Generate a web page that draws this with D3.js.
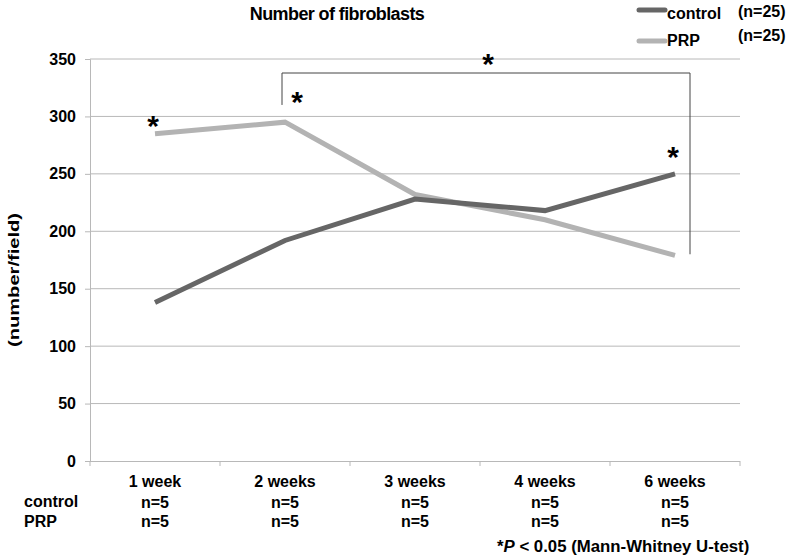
<!DOCTYPE html>
<html>
<head>
<meta charset="utf-8">
<script src="https://cdn.jsdelivr.net/npm/d3@7"></script>
<style>
  body { margin: 0; background: #fff; }
  text { font-family: "Liberation Sans", Arial, sans-serif; font-weight: bold; fill: #000; }
</style>
</head>
<body>
<div id="chart"></div>
<script>
const weeks = ["1 week", "2 weeks", "3 weeks", "4 weeks", "6 weeks"];
const controlValues = [138, 192, 228, 218, 250];
const prpValues = [285, 295, 232, 210, 179];
const controlN = ["n=5", "n=5", "n=5", "n=5", "n=5"];
const prpN = ["n=5", "n=5", "n=5", "n=5", "n=5"];
const yTicks = [0, 50, 100, 150, 200, 250, 300, 350];

const W = 790, H = 557;
const plotLeft = 90, plotRight = 740, plotTop = 59, plotBottom = 461;
const fs = "16px";

const svg = d3.select("#chart").append("svg")
  .attr("width", W).attr("height", H);

const x = d3.scaleBand().domain(weeks).range([plotLeft, plotRight]).padding(0);
const y = d3.scaleLinear().domain([0, 350]).range([plotBottom, plotTop]);
const cx = d => x(d) + x.bandwidth() / 2;

// gridlines
svg.append("g").selectAll("line").data(yTicks.slice(1)).join("line")
  .attr("x1", plotLeft).attr("x2", plotRight)
  .attr("y1", d => y(d)).attr("y2", d => y(d))
  .attr("stroke", "#b8b8b8").attr("stroke-width", 1);

// y axis
const yAxis = svg.append("g").attr("transform", `translate(${plotLeft},0)`)
  .call(d3.axisLeft(y).tickValues(yTicks).tickSize(5).tickPadding(9));
yAxis.select(".domain").attr("stroke", "#b8b8b8");
yAxis.selectAll(".tick line").attr("stroke", "#b8b8b8");
yAxis.selectAll("text").style("font-size", fs).style("font-family", "Liberation Sans, Arial, sans-serif").style("font-weight", "bold");

// x axis
const xAxis = svg.append("g").attr("transform", `translate(0,${plotBottom})`)
  .call(d3.axisBottom(x).tickSize(0).tickPadding(15));
xAxis.select(".domain").attr("stroke", "#b8b8b8").attr("d", `M${plotLeft},0.5H${plotRight}`);
xAxis.selectAll("text").style("font-size", fs).style("font-family", "Liberation Sans, Arial, sans-serif").style("font-weight", "bold");
svg.append("g").selectAll("line").data(weeks.concat([null])).join("line")
  .attr("x1", (d, i) => i < weeks.length ? x(d) : plotRight)
  .attr("x2", (d, i) => i < weeks.length ? x(d) : plotRight)
  .attr("y1", plotBottom).attr("y2", plotBottom + 5)
  .attr("stroke", "#b8b8b8");

// n rows
svg.append("g").selectAll("text").data(controlN).join("text")
  .attr("x", (d, i) => cx(weeks[i])).attr("y", 508)
  .attr("text-anchor", "middle").style("font-size", fs).text(d => d);
svg.append("g").selectAll("text").data(prpN).join("text")
  .attr("x", (d, i) => cx(weeks[i])).attr("y", 527)
  .attr("text-anchor", "middle").style("font-size", fs).text(d => d);
svg.append("text").attr("x", 24).attr("y", 507).style("font-size", fs).text("control");
svg.append("text").attr("x", 24).attr("y", 527).style("font-size", fs).text("PRP");

// footnote
const foot = svg.append("text").attr("x", 497).attr("y", 552).style("font-size", "16.8px");
foot.append("tspan").text("*");
foot.append("tspan").style("font-style", "italic").text("P");
foot.append("tspan").text(" < 0.05 (Mann-Whitney U-test)");

// lines
const line = d3.line().x((d, i) => cx(weeks[i])).y(d => y(d));
svg.append("path").datum(prpValues).attr("d", line)
  .attr("fill", "none").attr("stroke", "#b3b3b3").attr("stroke-width", 5);
svg.append("path").datum(controlValues).attr("d", line)
  .attr("fill", "none").attr("stroke", "#666").attr("stroke-width", 5);

// significance bracket
const bx1 = cx(weeks[1]) - 3, bx2 = cx(weeks[4]) + 15, by = 73;
svg.append("path")
  .attr("d", `M${bx1},${y(310)}V${by}H${bx2}V${y(180)}`)
  .attr("fill", "none").attr("stroke", "#444").attr("stroke-width", 1);

const stars = [
  { x: 153, y: 136 },
  { x: 297, y: 112 },
  { x: 488, y: 74 },
  { x: 673, y: 167 }
];
svg.append("g").selectAll("text").data(stars).join("text")
  .attr("x", d => d.x).attr("y", d => d.y)
  .attr("text-anchor", "middle").style("font-size", "30px").text("*");

// title
svg.append("text").attr("x", 337).attr("y", 20).attr("text-anchor", "middle")
  .style("font-size", "18px").style("letter-spacing", "-0.6px")
  .text("Number of fibroblasts");

// y label
svg.append("text")
  .attr("transform", `translate(19,280) rotate(-90)`)
  .attr("text-anchor", "middle")
  .attr("textLength", 134).attr("lengthAdjust", "spacingAndGlyphs")
  .style("font-size", "14px").text("(number/field)");

// legend
const legend = [
  { name: "control", color: "#666", y: 10, ty: 19, ny: 17 },
  { name: "PRP", color: "#b3b3b3", y: 41, ty: 46, ny: 41 }
];
const lg = svg.append("g").selectAll("g").data(legend).join("g");
lg.append("line").attr("x1", 639).attr("x2", 665)
  .attr("y1", d => d.y).attr("y2", d => d.y)
  .attr("stroke", d => d.color).attr("stroke-width", 5).attr("stroke-linecap", "round");
lg.append("text").attr("x", 667).attr("y", d => d.ty).style("font-size", fs).text(d => d.name);
lg.append("text").attr("x", 738).attr("y", d => d.ny).style("font-size", "16px").text("(n=25)");
</script>
</body>
</html>
